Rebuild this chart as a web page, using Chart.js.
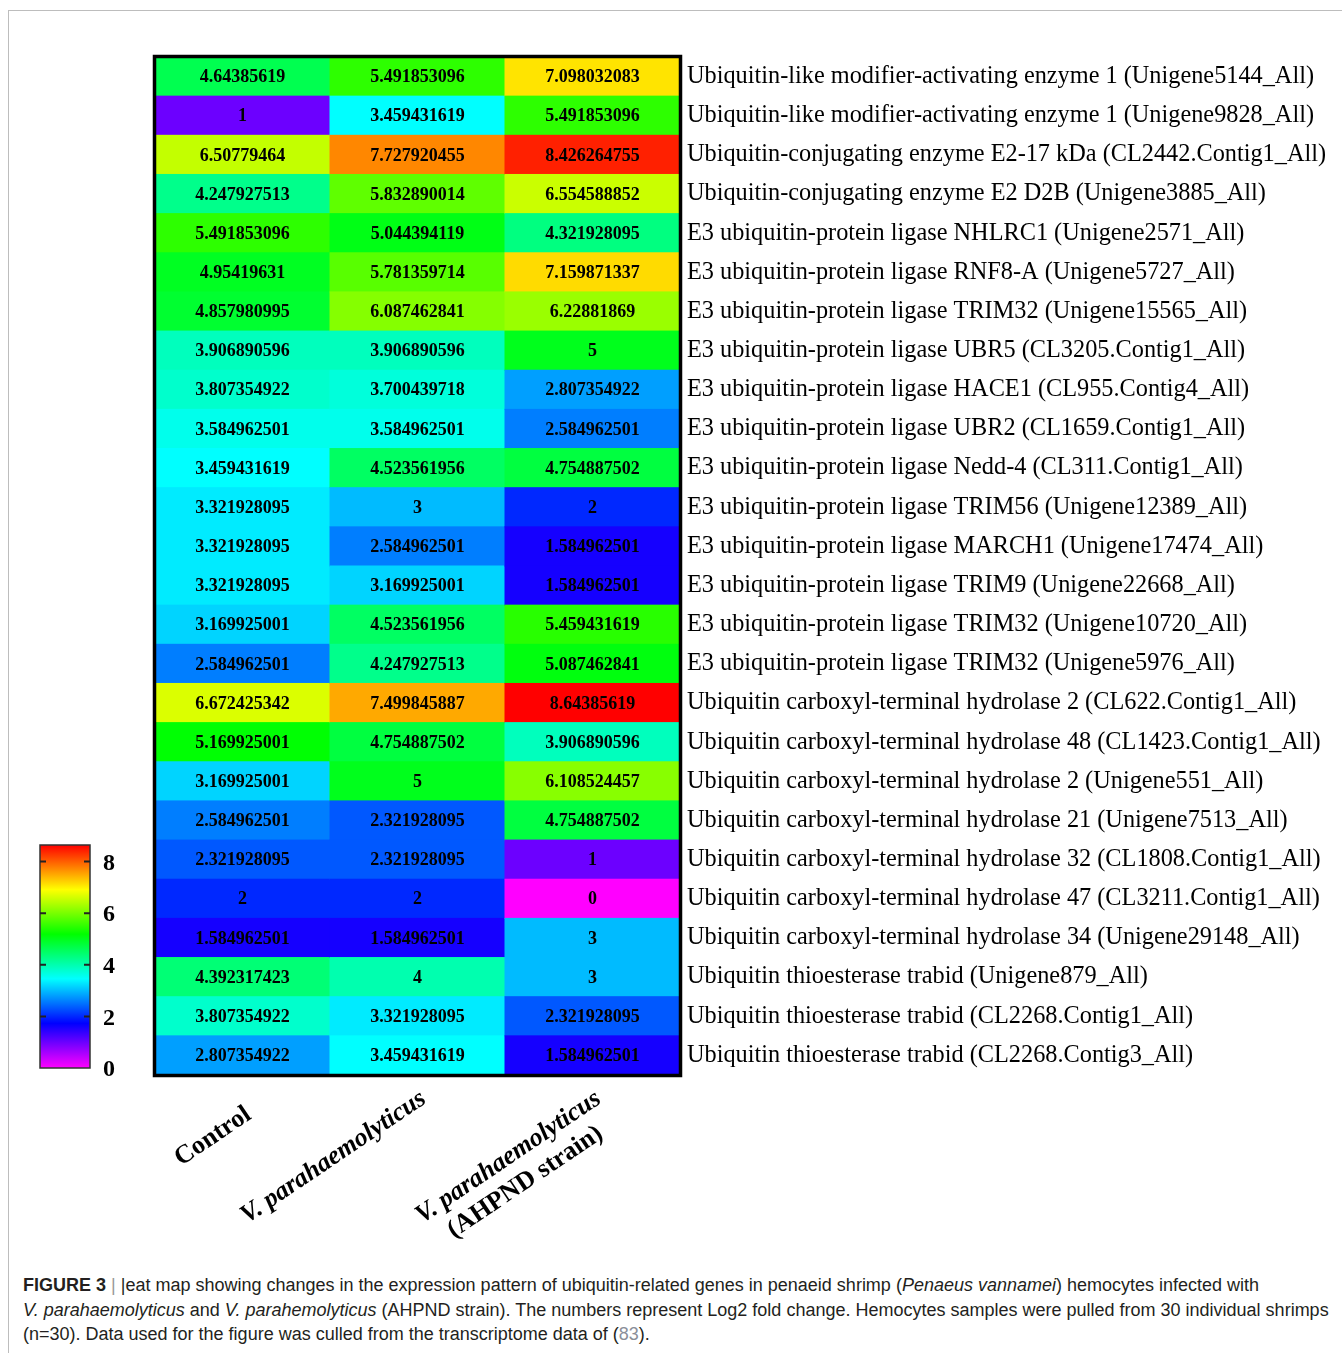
<!DOCTYPE html>
<html>
<head>
<meta charset="utf-8">
<title>Ubiquitin heat map</title>
<script src="https://cdn.jsdelivr.net/npm/chart.js@4.4.0/dist/chart.umd.min.js"></script>
<style>
  body { margin: 0; background: #fff; }
  #frame { position: absolute; left: 8px; top: 10px; width: 1340px; height: 1350px;
           border-top: 1px solid #bdbdbd; border-left: 1px solid #bdbdbd; }
  #heat { position: absolute; left: 0; top: 0; }
  #caption { position: absolute; left: 23px; top: 1273px; font-family: "Liberation Sans", Arial, sans-serif;
             font-size: 18px; line-height: 24.5px; color: #231f20; white-space: nowrap; }
  #caption .sep { color: #999; }
  #caption .ref { color: #8a8f99; }
</style>
</head>
<body>
<div id="frame"></div>
<canvas id="heat" width="1342" height="1250"></canvas>
<div id="caption">
  <b>FIGURE 3</b> <span class="sep">|</span> |eat map showing changes in the expression pattern of ubiquitin-related genes in penaeid shrimp (<i>Penaeus vannamei</i>) hemocytes infected with<br>
  <i>V. parahaemolyticus</i> and <i>V. parahemolyticus</i> (AHPND strain). The numbers represent Log2 fold change. Hemocytes samples were pulled from 30 individual shrimps<br>
  (n=30). Data used for the figure was culled from the transcriptome data of (<span class="ref">83</span>).
</div>
<script>
// datos del mapa de calor (log2 fold change)
const genes = [
  'Ubiquitin-like modifier-activating enzyme 1 (Unigene5144_All)',
  'Ubiquitin-like modifier-activating enzyme 1 (Unigene9828_All)',
  'Ubiquitin-conjugating enzyme E2-17 kDa (CL2442.Contig1_All)',
  'Ubiquitin-conjugating enzyme E2 D2B (Unigene3885_All)',
  'E3 ubiquitin-protein ligase NHLRC1 (Unigene2571_All)',
  'E3 ubiquitin-protein ligase RNF8-A (Unigene5727_All)',
  'E3 ubiquitin-protein ligase TRIM32 (Unigene15565_All)',
  'E3 ubiquitin-protein ligase UBR5 (CL3205.Contig1_All)',
  'E3 ubiquitin-protein ligase HACE1 (CL955.Contig4_All)',
  'E3 ubiquitin-protein ligase UBR2 (CL1659.Contig1_All)',
  'E3 ubiquitin-protein ligase Nedd-4 (CL311.Contig1_All)',
  'E3 ubiquitin-protein ligase TRIM56 (Unigene12389_All)',
  'E3 ubiquitin-protein ligase MARCH1 (Unigene17474_All)',
  'E3 ubiquitin-protein ligase TRIM9 (Unigene22668_All)',
  'E3 ubiquitin-protein ligase TRIM32 (Unigene10720_All)',
  'E3 ubiquitin-protein ligase TRIM32 (Unigene5976_All)',
  'Ubiquitin carboxyl-terminal hydrolase 2 (CL622.Contig1_All)',
  'Ubiquitin carboxyl-terminal hydrolase 48 (CL1423.Contig1_All)',
  'Ubiquitin carboxyl-terminal hydrolase 2 (Unigene551_All)',
  'Ubiquitin carboxyl-terminal hydrolase 21 (Unigene7513_All)',
  'Ubiquitin carboxyl-terminal hydrolase 32 (CL1808.Contig1_All)',
  'Ubiquitin carboxyl-terminal hydrolase 47 (CL3211.Contig1_All)',
  'Ubiquitin carboxyl-terminal hydrolase 34 (Unigene29148_All)',
  'Ubiquitin thioesterase trabid (Unigene879_All)',
  'Ubiquitin thioesterase trabid (CL2268.Contig1_All)',
  'Ubiquitin thioesterase trabid (CL2268.Contig3_All)'
];

const control = [4.64385619, 1, 6.50779464, 4.247927513, 5.491853096, 4.95419631, 4.857980995,
  3.906890596, 3.807354922, 3.584962501, 3.459431619, 3.321928095, 3.321928095, 3.321928095,
  3.169925001, 2.584962501, 6.672425342, 5.169925001, 3.169925001, 2.584962501, 2.321928095,
  2, 1.584962501, 4.392317423, 3.807354922, 2.807354922];

const vpara = [5.491853096, 3.459431619, 7.727920455, 5.832890014, 5.044394119, 5.781359714, 6.087462841,
  3.906890596, 3.700439718, 3.584962501, 4.523561956, 3, 2.584962501, 3.169925001,
  4.523561956, 4.247927513, 7.499845887, 4.754887502, 5, 2.321928095, 2.321928095,
  2, 1.584962501, 4, 3.321928095, 3.459431619];

const vparaAhpnd = [7.098032083, 5.491853096, 8.426264755, 6.554588852, 4.321928095, 7.159871337, 6.22881869,
  5, 2.807354922, 2.584962501, 4.754887502, 2, 1.584962501, 1.584962501,
  5.459431619, 5.087462841, 8.64385619, 3.906890596, 6.108524457, 4.754887502, 1,
  0, 3, 3, 2.321928095, 1.584962501];

const columnas = ['Control', 'V. parahaemolyticus', 'V. parahaemolyticus (AHPND strain)'];
const colorbarTicks = [0, 2, 4, 6, 8];
const escalaMax = 8.64385619;

const serie = [control, vpara, vparaAhpnd];

function colorDe(v) {
  const h = 300 * (1 - v / escalaMax);
  return `hsl(${h.toFixed(1)}, 100%, 50%)`;
}

const puntos = [];
serie.forEach((vals, c) => {
  vals.forEach((v, r) => puntos.push({ x: columnas[c], y: genes[r], v: v }));
});

const serif = '"Liberation Serif", "Times New Roman", serif';

const heatmapPlugin = {
  id: 'heatmap',
  beforeDatasetsDraw(chart) {
    const ctx = chart.ctx;
    const xs = chart.scales.x, ys = chart.scales.y;
    const w = xs.width / columnas.length;
    const h = ys.height / genes.length;
    const meta = chart.getDatasetMeta(0);
    ctx.save();
    meta.data.forEach((el, i) => {
      const p = puntos[i];
      ctx.fillStyle = colorDe(p.v);
      ctx.fillRect(el.x - w / 2 - 0.5, el.y - h / 2 - 0.5, w + 1, h + 1);
    });
    ctx.fillStyle = '#000';
    ctx.font = `bold 18px ${serif}`;
    ctx.textAlign = 'center';
    ctx.textBaseline = 'middle';
    meta.data.forEach((el, i) => {
      ctx.fillText(String(puntos[i].v), el.x, el.y + 1);
    });
    const a = chart.chartArea;
    ctx.strokeStyle = '#000';
    ctx.lineWidth = 3.5;
    ctx.strokeRect(a.left - 0.5, a.top - 0.5, a.right - a.left + 1, a.bottom - a.top + 1);
    ctx.restore();
  },
  afterDraw(chart) {
    const ctx = chart.ctx;
    const a = chart.chartArea;
    const meta = chart.getDatasetMeta(0);
    ctx.save();
    ctx.fillStyle = '#000';
    // etiquetas de columnas rotadas
    const ang = -34 * Math.PI / 180;
    const labelsCol = [
      { l1: 'Control', it: false, l2: null, dy: 43 },
      { l1: 'V. parahaemolyticus', it: true, l2: null, dy: 27 },
      { l1: 'V. parahaemolyticus', it: true, l2: '(AHPND strain)', dy: 27 }
    ];
    labelsCol.forEach((lab, i) => {
      const cx = meta.data[i * genes.length].x;
      ctx.save();
      ctx.translate(cx + 10, a.bottom + lab.dy);
      ctx.rotate(ang);
      ctx.textBaseline = 'alphabetic';
      ctx.font = `${lab.it ? 'italic ' : ''}bold 26px ${serif}`;
      const w1 = ctx.measureText(lab.l1).width;
      ctx.textAlign = 'right';
      ctx.fillText(lab.l1, 0, 0);
      if (lab.l2) {
        ctx.font = `bold 26px ${serif}`;
        ctx.textAlign = 'center';
        ctx.fillText(lab.l2, -w1 / 2, 30);
      }
      ctx.restore();
    });

    // barra de color
    const bx = 40, bw = 50, bTop = 845, bBot = 1068;
    const grad = ctx.createLinearGradient(0, bBot, 0, bTop);
    for (let k = 0; k <= 20; k++) {
      grad.addColorStop(k / 20, colorDe(escalaMax * k / 20));
    }
    ctx.fillStyle = grad;
    ctx.fillRect(bx, bTop, bw, bBot - bTop);
    ctx.strokeStyle = '#333';
    ctx.lineWidth = 1.5;
    ctx.strokeRect(bx, bTop, bw, bBot - bTop);
    ctx.fillStyle = '#000';
    ctx.font = `bold 24px ${serif}`;
    ctx.textAlign = 'left';
    ctx.textBaseline = 'middle';
    colorbarTicks.forEach(t => {
      const y = bBot - (t / escalaMax) * (bBot - bTop);
      if (t > 0) {
        ctx.lineWidth = 2;
        ctx.strokeStyle = '#222';
        ctx.beginPath();
        ctx.moveTo(bx, y); ctx.lineTo(bx + 6, y);
        ctx.moveTo(bx + bw - 6, y); ctx.lineTo(bx + bw, y);
        ctx.stroke();
      }
      ctx.fillText(String(t), 103, y + 2);
    });
    ctx.restore();
  }
};

new Chart(document.getElementById('heat'), {
  type: 'scatter',
  data: {
    datasets: [{
      data: puntos,
      pointRadius: 0,
      pointHoverRadius: 0
    }]
  },
  options: {
    responsive: false,
    animation: false,
    layout: { padding: { left: 155, top: 57, bottom: 175, right: 0 } },
    plugins: { legend: { display: false }, tooltip: { enabled: false } },
    scales: {
      x: {
        type: 'category',
        labels: columnas,
        offset: true,
        display: false
      },
      y: {
        type: 'category',
        labels: genes,
        offset: true,
        position: 'right',
        grid: { display: false, drawTicks: false },
        border: { display: false },
        ticks: {
          color: '#000',
          padding: 7,
          autoSkip: false,
          font: { family: serif, size: 24.3 }
        },
        afterFit(s) { s.width = 662; }
      }
    }
  },
  plugins: [heatmapPlugin]
});
</script>
</body>
</html>
